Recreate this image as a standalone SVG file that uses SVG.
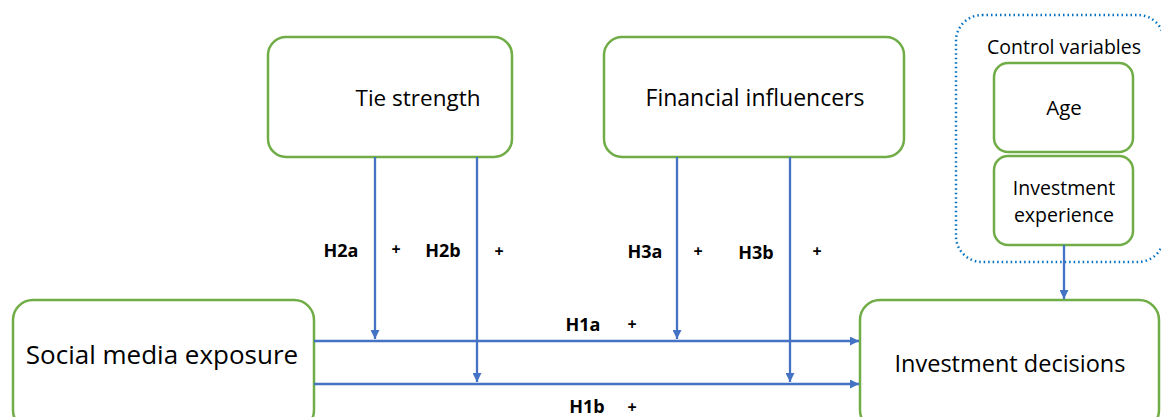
<svg xmlns="http://www.w3.org/2000/svg" width="1161" height="417" viewBox="0 0 1161 417">
<defs>
<style>
.node{fill:#fff;stroke:#70AD47;stroke-width:2.5}
.t{font-family:"Open Sans","Liberation Sans",sans-serif;fill:#000;text-anchor:middle}
.lbl{font-family:"Open Sans","Liberation Sans",sans-serif;font-weight:bold;fill:#000;text-anchor:middle;font-size:18px}
.pl{font-family:"Open Sans","Liberation Sans",sans-serif;font-weight:bold;fill:#000;text-anchor:middle;font-size:16px}
.c{stroke:#4472C4;stroke-width:2.3;fill:none}
</style>
<marker id="ah" viewBox="0 0 10 10" refX="10" refY="5" markerWidth="9" markerHeight="9" orient="auto" markerUnits="userSpaceOnUse">
<path d="M0,0 L10,5 L0,10 z" fill="#4472C4"/>
</marker>
</defs>
<rect width="1161" height="417" fill="#fff"/>
<g id="control-group">
<rect x="956" y="15" width="208" height="247" rx="26" fill="none" stroke="#0070C0" stroke-width="2.5" stroke-dasharray="1.5,3"/>
<text class="t" x="1064" y="54" font-size="19.5">Control variables</text>
</g>
<g id="tie"><rect class="node" x="268" y="37" width="244" height="120" rx="18"/><text class="t" x="418" y="106" font-size="22.5">Tie strength</text></g>
<g id="fin"><rect class="node" x="604" y="37" width="300" height="120" rx="18"/><text class="t" x="755" y="106" font-size="23">Financial influencers</text></g>
<g id="age"><rect class="node" x="994" y="63" width="139" height="89" rx="14"/><text class="t" x="1064" y="115" font-size="20.5">Age</text></g>
<g id="exp"><rect class="node" x="994" y="156" width="139" height="89" rx="14"/><text class="t" x="1064" y="195" font-size="19.5">Investment</text><text class="t" x="1064" y="222" font-size="19.5">experience</text></g>
<g id="sme"><rect class="node" x="13" y="300" width="301" height="130" rx="20"/><text class="t" x="162" y="364" font-size="26">Social media exposure</text></g>
<g id="inv"><rect class="node" x="860" y="300" width="299" height="130" rx="20"/><text class="t" x="1010" y="372" font-size="23.5">Investment decisions</text></g>
<g id="connectors">
<line class="c" x1="314" y1="341" x2="859" y2="341" marker-end="url(#ah)"/>
<line class="c" x1="314" y1="384" x2="859" y2="384" marker-end="url(#ah)"/>
<line class="c" x1="375" y1="157" x2="375" y2="339" marker-end="url(#ah)"/>
<line class="c" x1="477" y1="157" x2="477" y2="382" marker-end="url(#ah)"/>
<line class="c" x1="677" y1="157" x2="677" y2="339" marker-end="url(#ah)"/>
<line class="c" x1="790" y1="157" x2="790" y2="382" marker-end="url(#ah)"/>
<line class="c" x1="1064" y1="245" x2="1064" y2="299" marker-end="url(#ah)"/>
</g>
<g id="labels">
<text class="lbl" x="341" y="257">H2a</text><text class="pl" x="396" y="255">+</text>
<text class="lbl" x="443" y="257">H2b</text><text class="pl" x="499" y="257">+</text>
<text class="lbl" x="645" y="258">H3a</text><text class="pl" x="698" y="257">+</text>
<text class="lbl" x="756" y="259">H3b</text><text class="pl" x="817" y="257">+</text>
<text class="lbl" x="583" y="331">H1a</text><text class="pl" x="632" y="330">+</text>
<text class="lbl" x="587" y="413" font-size="17">H1b</text><text class="pl" x="632" y="413">+</text>
</g>
</svg>
